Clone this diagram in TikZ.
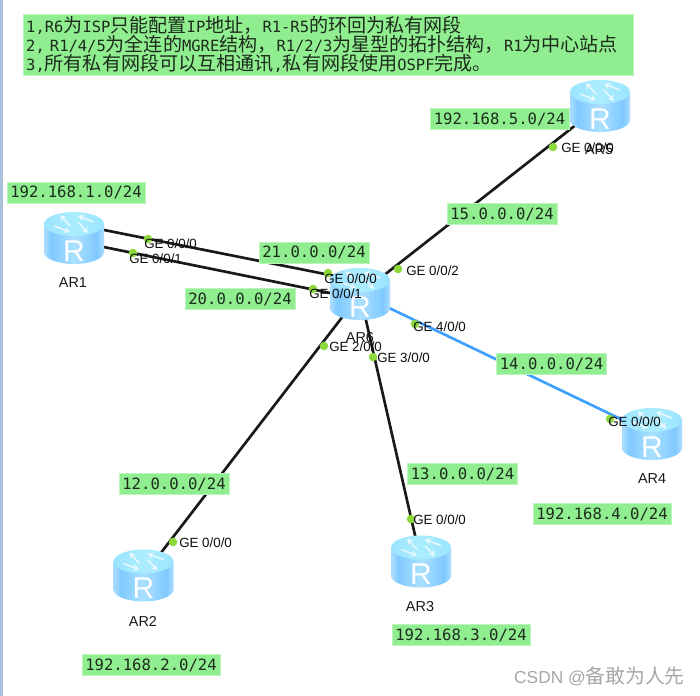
\documentclass[tikz,border=0pt]{standalone}
\usepackage{fontspec}
\setmainfont{Liberation Sans}
\setmonofont{DejaVu Sans Mono}
\newfontfamily\cjk{Noto Sans CJK SC}
\usetikzlibrary{arrows.meta,calc}
\definecolor{labelgreen}{HTML}{90EE90}
\definecolor{portgreen}{HTML}{8CD83A}
\definecolor{linkblue}{HTML}{3FA0FF}
\definecolor{sidebar}{HTML}{A9C0DA}
\definecolor{darktext}{HTML}{1C2B1C}
\definecolor{marktext}{HTML}{A6A6A6}
\pgfdeclarehorizontalshading{bodyshade}{100bp}{
  rgb(0bp)=(0.65,0.86,1);
  rgb(26bp)=(0.65,0.86,1);
  rgb(31bp)=(0.50,0.79,1);
  rgb(50bp)=(0.67,0.88,1);
  rgb(69bp)=(0.50,0.79,1);
  rgb(74bp)=(0.65,0.86,1);
  rgb(100bp)=(0.65,0.86,1)}
\pgfdeclarehorizontalshading{capshade}{100bp}{
  rgb(0bp)=(0.55,0.86,1);
  rgb(50bp)=(0.67,0.93,1);
  rgb(100bp)=(0.55,0.86,1)}
\newcommand{\cj}[1]{{\cjk\fontsize{14.3}{13.9}\selectfont #1}}
\tikzset{
  routerbox/.style={rectangle,minimum width=45pt,minimum height=39pt,inner sep=0pt},
  link/.style={line width=2pt,color=black!90},
  bluelink/.style={line width=2pt,color=linkblue},
  port/.style={circle,fill=portgreen,minimum size=6.4pt,inner sep=0pt},
  portlbl/.style={font=\fontsize{10}{12}\selectfont,color=black!95,anchor=west,inner sep=0pt},
  namelbl/.style={font=\fontsize{10.8}{12}\selectfont,color=black!90,inner sep=0pt},
  net/.style={rectangle,fill=labelgreen,draw=labelgreen!60,line width=0.3pt,
              font=\ttfamily\fontsize{11.7}{14}\selectfont,text=darktext,
              minimum height=16pt,inner xsep=2.6pt,inner ysep=0pt},
  note/.style={rectangle,fill=labelgreen,draw=labelgreen!60,line width=0.3pt,
               minimum width=457.5pt,minimum height=45.5pt,anchor=north west,
               font=\ttfamily\fontsize{11.6}{13.9}\selectfont,text=darktext,
               align=left,text width=453pt,inner xsep=2.2pt,inner ysep=0pt},
  swirl/.style={white!92!cyan,line width=1.1pt,-{Stealth[length=4.5pt,width=5pt]}},
  router/.pic={
    \path[shading=bodyshade]
      (-30,-14) -- (-30,14) arc[start angle=180,end angle=0,x radius=30,y radius=12]
      -- (30,-14) -- cycle;
    \path[shading=capshade]
      (0,-14) ellipse[x radius=30,y radius=12];
    \draw[swirl] (-20,-12) -- (-4,-6);
    \draw[swirl] (-4,-12) -- (-14,-23);
    \draw[swirl] (20,-16) -- (4,-22);
    \draw[swirl] (4,-16) -- (14,-5);
    \node[text=white,font=\fontsize{22.5}{24}\selectfont,inner sep=0pt] (-r) at (0,13) {R};
  },
}
\begin{document}
\begin{tikzpicture}[x=0.75pt,y=-0.75pt]
  \useasboundingbox (0,0) rectangle (700,696);
  \fill[sidebar] (0,0) rectangle (3,696);

  % routers first, so the links can find them
  \foreach \n/\x/\y in {AR1/74/238,AR2/143.5/575.5,AR3/421/561.5,
                        AR4/652/434,AR5/600/106,AR6/360/294}
    \node[routerbox] (\n) at (\x,\y) {};

  \coordinate (a1top) at ($(AR1)+(10,-12)$);
  \coordinate (a1low) at ($(AR1)+(10,5)$);
  \coordinate (a6top) at ($(AR6)+(-20,-17)$);
  \coordinate (a6low) at ($(AR6)+(-20,1)$);

  \draw[link] (a1top)--(a6top);
  \draw[link] (a1low)--(a6low);
  \foreach \i/\j in {AR6/AR5,AR6/AR2,AR6/AR3}
    \draw[link] (\i.center)--(\j.center);
  \draw[bluelink] (AR6.center)--(AR4.center);

  \foreach \n in {AR1,AR2,AR3,AR4,AR5,AR6}
    \pic (r\n) at (\n) {router};

  % router names
  \node[namelbl] (nAR1) at (73,283) {AR1};
  \node[namelbl] (nAR2) at (143,621) {AR2};
  \node[namelbl] (nAR3) at (420,607) {AR3};
  \node[namelbl] (nAR4) at (652,479) {AR4};
  \node[namelbl] (nAR5) at (599,150) {AR5};
  \node[namelbl] (nAR6) at (360,338) {AR6};

  % ports
  \foreach \n/\x/\y in {p1/148/239,p2/133/253,p3/328/273,p4/313/289,p5/398/269,
                        p6/415/324,p7/324/346,p8/373/357,p9/553/147,p10/610/419,
                        p11/173/542,p12/411/519}
    \node[port] (\n) at (\x,\y) {};

  \foreach \n/\x/\y/\t in {l1/144/244/GE 0{/}0{/}0,l2/129/259/GE 0{/}0{/}1,
                           l3/324/279/GE 0{/}0{/}0,l4/309/294/GE 0{/}0{/}1,
                           l5/406/271/GE 0{/}0{/}2,l6/413/327/GE 4{/}0{/}0,
                           l7/329/347/GE 2{/}0{/}0,l8/377/358/GE 3{/}0{/}0,
                           l9/561/148/GE 0{/}0{/}0,l10/608/422/GE 0{/}0{/}0,
                           l11/179/543/GE 0{/}0{/}0,l12/413/520/GE 0{/}0{/}0}
    \node[portlbl] (\n) at (\x,\y) {\t};

  % network labels
  \node[net] (n1) at (76,192.5) {192.168.1.0/24};
  \node[net] (n2) at (151,665) {192.168.2.0/24};
  \node[net] (n3) at (461,635) {192.168.3.0/24};
  \node[net] (n4) at (602,514) {192.168.4.0/24};
  \node[net] (n5) at (499.5,119) {192.168.5.0/24};
  \node[net] (n12) at (174,484) {12.0.0.0/24};
  \node[net] (n13) at (462.5,474) {13.0.0.0/24};
  \node[net] (n14) at (551.5,364) {14.0.0.0/24};
  \node[net] (n15) at (502,214) {15.0.0.0/24};
  \node[net] (n20) at (240,299) {20.0.0.0/24};
  \node[net] (n21) at (314,252.5) {21.0.0.0/24};

  \node[note] (task) at (23,14) {1,R6\cj{为}ISP\cj{只能配置}IP\cj{地址，}R1-R5\cj{的环回为私有网段}\\
    2, R1/4/5\cj{为全连的}MGRE\cj{结构，}R1/2/3\cj{为星型的拓扑结构，}R1\cj{为中心站点}\\
    3,\cj{所有私有网段可以互相通讯},\cj{私有网段使用}OSPF\cj{完成。}\par\vskip 3pt};

  \node[text=marktext,anchor=east,inner sep=0pt,font=\fontsize{13}{15}\selectfont] (mark)
    at (685,676) {CSDN @{\cjk\fontsize{14.85}{15}\selectfont 备敢为人先}};
\end{tikzpicture}
\end{document}
